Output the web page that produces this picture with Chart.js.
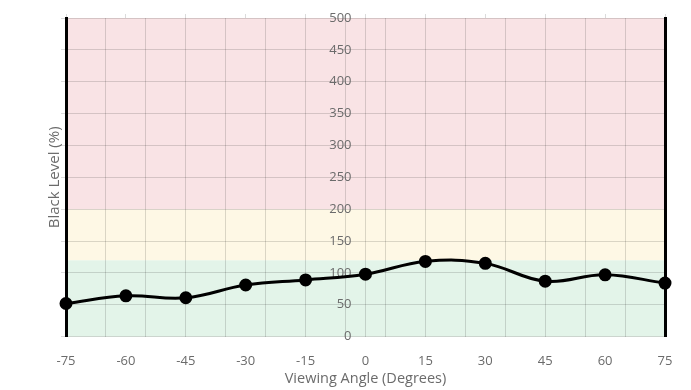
<!DOCTYPE html>
<html lang="en">
<head>
    <meta charset="UTF-8">
    <title>Black Level vs Viewing Angle</title>
    <style>
        html, body { margin: 0; padding: 0; background: #fff; }
        #wrap { width: 691px; height: 390px; }
    </style>
</head>
<body>
    <div id="wrap"><canvas id="myChart01"></canvas></div>
    <script src="https://cdn.jsdelivr.net/npm/chart.js"></script>
    <script>
        // 資料
        var angles = [-75, -60, -45, -30, -15, 0, 15, 30, 45, 60, 75];
        var blackLevel = [52, 64, 61, 81, 89, 98, 118, 115, 87, 97, 84];
        var xLabelTicks = [-75, -60, -45, -30, -15, 0, 15, 30, 45, 60, 75];
        var xGridLines = [-75, -65, -55, -45, -35, -25, -15, -5, 0, 5, 15, 25, 35, 45, 55, 65, 75];
        var yTicks = [0, 50, 100, 150, 200, 250, 300, 350, 400, 450, 500];
        var bandStops = [0, 120, 200, 500];
        var bandColors = ['#e3f4e9', '#fef8e5', '#f9e3e5'];

        var allXTicks = xLabelTicks.concat(xGridLines)
            .filter(function (v, i, a) { return a.indexOf(v) === i; })
            .sort(function (a, b) { return a - b; });

        var gridGray = 'rgba(0,0,0,0.14)';
        var font13 = { family: 'Open Sans', size: 13 };
        var fontTitleX = { family: 'Open Sans', size: 14.5, lineHeight: 1.5 };
        var fontTitleY = { family: 'Open Sans', size: 15 };

        // 背景色帶
        var bandPlugin = {
            id: 'bands',
            beforeDraw: function (chart) {
                var ctx = chart.ctx;
                var area = chart.chartArea;
                var y = chart.scales.y;
                for (var i = 0; i < bandColors.length; i++) {
                    var top = y.getPixelForValue(bandStops[i + 1]);
                    var bottom = y.getPixelForValue(bandStops[i]);
                    ctx.save();
                    ctx.fillStyle = bandColors[i];
                    ctx.fillRect(area.left, top, area.right - area.left, bottom - top);
                    ctx.restore();
                }
            }
        };

        var ctx01 = document.getElementById('myChart01');
        var chart01 = new Chart(ctx01, {
            type: 'line',
            data: {
                datasets: [{
                    data: angles.map(function (a, i) { return { x: a, y: blackLevel[i] }; }),
                    borderColor: '#000',
                    backgroundColor: '#000',
                    borderWidth: 3,
                    pointRadius: 5,
                    pointBackgroundColor: '#000',
                    tension: 0.4,
                    clip: false
                }]
            },
            options: {
                responsive: true,
                maintainAspectRatio: false,
                animation: false,
                layout: { padding: { left: 46, right: 26, top: 14, bottom: 0 } },
                plugins: { legend: { display: false }, tooltip: { enabled: false } },
                scales: {
                    x: {
                        type: 'linear',
                        position: 'bottom',
                        min: -75,
                        max: 75,
                        afterBuildTicks: function (axis) {
                            axis.ticks = allXTicks.map(function (v) { return { value: v }; });
                        },
                        ticks: {
                            autoSkip: false,
                            maxRotation: 0,
                            padding: 17,
                            color: '#6b6b6b',
                            font: font13,
                            callback: function (v) { return xLabelTicks.indexOf(v) >= 0 ? String(v) : ''; }
                        },
                        grid: {
                            drawTicks: false,
                            color: function (c) {
                                return c.tick && xGridLines.indexOf(c.tick.value) >= 0 ? gridGray : 'rgba(0,0,0,0)';
                            }
                        },
                        border: { display: false },
                        title: {
                            display: true,
                            text: 'Viewing Angle (Degrees)',
                            color: '#6b6b6b',
                            font: fontTitleX,
                            padding: { top: -18, bottom: 0 }
                        }
                    },
                    xTop: {
                        type: 'linear',
                        position: 'top',
                        min: -75,
                        max: 75,
                        afterBuildTicks: function (axis) {
                            axis.ticks = xLabelTicks.map(function (v) { return { value: v }; });
                        },
                        ticks: { display: false },
                        grid: { drawOnChartArea: false, tickLength: 4, tickColor: gridGray },
                        border: { display: false }
                    },
                    y: {
                        position: 'left',
                        min: 0,
                        max: 500,
                        afterBuildTicks: function (axis) {
                            axis.ticks = yTicks.map(function (v) { return { value: v }; });
                        },
                        ticks: { display: false },
                        grid: { color: gridGray, tickLength: 5, tickColor: gridGray },
                        border: { color: '#000', width: 3 },
                        title: {
                            display: true,
                            text: 'Black Level (%)',
                            color: '#6b6b6b',
                            font: fontTitleY,
                            padding: { top: 0, bottom: -3 }
                        }
                    },
                    yLab: {
                        // 標籤靠在 0 度軸的左邊
                        position: { x: -3.5 },
                        min: 0,
                        max: 500,
                        afterBuildTicks: function (axis) {
                            axis.ticks = yTicks.map(function (v) { return { value: v }; });
                        },
                        ticks: { padding: 0, color: '#6b6b6b', font: font13 },
                        grid: { display: false, drawTicks: false },
                        border: { display: false }
                    },
                    yRight: {
                        position: 'right',
                        min: 0,
                        max: 500,
                        ticks: { display: false },
                        grid: { drawOnChartArea: false, drawTicks: false },
                        border: { color: '#000', width: 3 }
                    }
                }
            },
            plugins: [bandPlugin]
        });
    </script>
</body>
</html>
